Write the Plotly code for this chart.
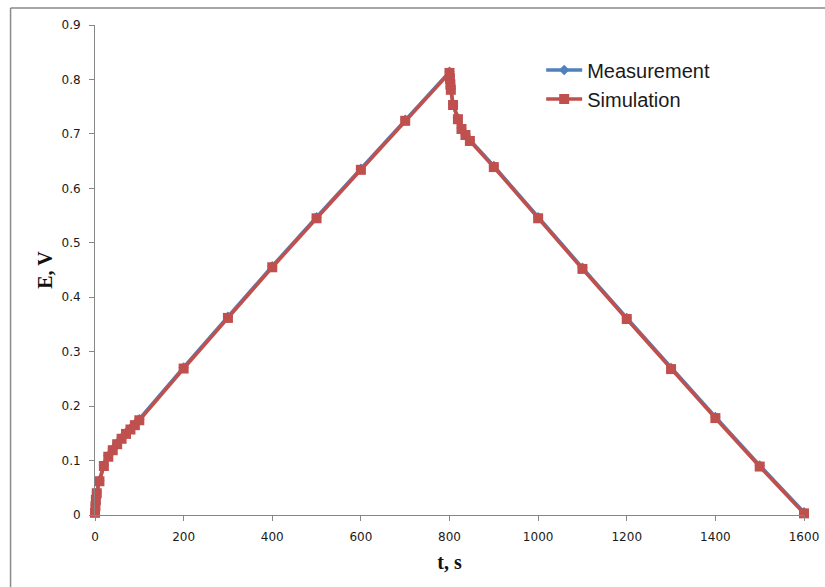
import plotly.graph_objects as go

# ---- data ----
t_sim = [0, 1, 2, 4, 10, 20, 30, 40, 50, 60, 70, 80, 90, 100, 200, 300, 400, 500, 600, 700,
         800, 801, 802, 803, 808, 819, 827, 836, 846, 900, 1000, 1100, 1200, 1300, 1400, 1500, 1600]
e_sim = [0.004, 0.016, 0.028, 0.040, 0.062, 0.090, 0.107, 0.119, 0.130, 0.140, 0.149, 0.157, 0.165, 0.174,
         0.269, 0.362, 0.455, 0.545, 0.634, 0.724,
         0.812, 0.802, 0.791, 0.781, 0.753, 0.727, 0.709, 0.698, 0.687, 0.639,
         0.545, 0.452, 0.360, 0.268, 0.178, 0.089, 0.003]

t_meas = [0, 1, 2, 4, 10, 20, 30, 40, 50, 60, 70, 80, 90, 100, 200, 300, 400, 500, 600, 700,
          800, 801, 802, 803, 808, 819, 827, 836, 846, 900, 1000, 1100, 1200, 1300, 1400, 1500, 1600]
e_meas = [0.005, 0.018, 0.030, 0.042, 0.064, 0.092, 0.109, 0.121, 0.132, 0.142, 0.151, 0.159, 0.167, 0.176,
          0.271, 0.364, 0.457, 0.547, 0.636, 0.726,
          0.814, 0.804, 0.793, 0.783, 0.755, 0.729, 0.711, 0.700, 0.689, 0.641,
          0.547, 0.454, 0.362, 0.270, 0.180, 0.091, 0.005]

x_ticks = [0, 200, 400, 600, 800, 1000, 1200, 1400, 1600]
y_ticks = [0, 0.1, 0.2, 0.3, 0.4, 0.5, 0.6, 0.7, 0.8, 0.9]
y_tick_text = ["0", "0.1", "0.2", "0.3", "0.4", "0.5", "0.6", "0.7", "0.8", "0.9"]

BLUE = "#4F81BD"
RED = "#C0504D"

W, H = 825, 587
ML, MR, MT, MB = 94.5, 21, 24.5, 72
PW, PH = W - ML - MR, H - MT - MB

fig = go.Figure()
fig.add_trace(go.Scatter(
    x=t_meas, y=e_meas, name="Measurement", mode="lines+markers",
    line=dict(color=BLUE, width=3.5),
    marker=dict(symbol="diamond", size=8, color=BLUE),
    cliponaxis=False,
))
fig.add_trace(go.Scatter(
    x=t_sim, y=e_sim, name="Simulation", mode="lines+markers",
    line=dict(color=RED, width=3.5),
    marker=dict(symbol="square", size=10, color=RED),
    cliponaxis=False,
))

axis_common = dict(
    showgrid=False, zeroline=False, showline=True, linecolor="#868686", linewidth=1,
    ticks="outside", ticklen=5, tickcolor="#868686", tickwidth=1,
    tickfont=dict(family="DejaVu Sans", size=12, color="#1a1a1a"),
)

def px(x):
    return (x - ML) / PW

def py(y):
    return (H - MB - y) / PH

fig.update_layout(
    width=W, height=H,
    margin=dict(l=ML, r=MR, t=MT, b=MB, autoexpand=False),
    paper_bgcolor="white", plot_bgcolor="white",
    showlegend=True,
    legend=dict(
        x=px(541), y=py(50), xanchor="left", yanchor="top",
        font=dict(family="Liberation Sans", size=20, color="#1a1a1a"),
        bgcolor="rgba(0,0,0,0)", itemwidth=36, tracegroupgap=0,
    ),
    xaxis=dict(
        range=[0, 1600], tickvals=x_ticks, ticklabelstandoff=6, **axis_common,
        title=dict(text="<b>t, s</b>", font=dict(family="Liberation Serif", size=20, color="#111"), standoff=11),
    ),
    yaxis=dict(
        range=[0, 0.9], tickvals=y_ticks, ticktext=y_tick_text, ticklabelstandoff=6, **axis_common,
        title=dict(text="<b>E, V</b>", font=dict(family="Liberation Serif", size=20, color="#111"), standoff=3),
    ),
    shapes=[
        dict(type="line", xref="paper", yref="paper",
             x0=px(10), x1=px(W), y0=py(7.5), y1=py(7.5),
             line=dict(color="#8a8a8a", width=1.5), layer="below"),
        dict(type="line", xref="paper", yref="paper",
             x0=px(10), x1=px(10), y0=py(7.5), y1=py(H),
             line=dict(color="#8a8a8a", width=1.5), layer="below"),
    ],
)

fig.write_html("out.html")
